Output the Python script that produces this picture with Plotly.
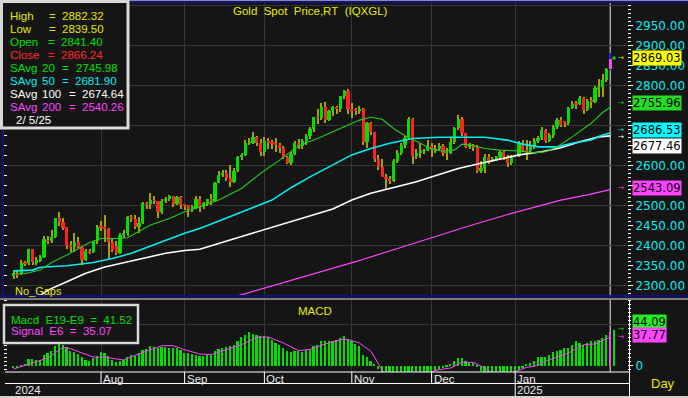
import plotly.graph_objects as go
import pandas as pd

W, H = 688, 398
def fx(p): return p / W
def fy(p): return 1 - p / H

# ---------------- data ----------------
dates = pd.bdate_range("2024-07-01", "2025-02-05")   # weekday bars
idx = list(range(len(dates)))
# month boundaries that the time scale marks (the partial last month is not marked)
month_starts = [i for i in range(1, len(dates))
                if dates[i].month != dates[i - 1].month and len(dates) - i > 5]
month_names = [dates[i].strftime("%b") for i in month_starts]

open_ = [
 2324,2333,2330,2358,2356,2391,2358,2363,2371,2415,2411,2423,2469,2459,2446,2401,2396,2409,2398,2365,2387,2385,2411,
 2448,2446,2443,2410,2400,2383,2428,2431,2472,2466,2447,2457,2508,2504,2514,2512,2484,2512,2518,2524,2504,2521,
 2503,2500,2493,2495,2516,2497,2506,2516,2512,2558,2578,2582,2570,2559,2587,2622,2628,2657,2657,2672,2658,
 2634,2662,2658,2656,2653,2644,2622,2608,2630,2656,2649,2662,2674,2692,2721,2720,2748,2715,2736,2747,2743,2774,2788,
 2743,2741,2736,2743,2659,2706,2685,2618,2598,2573,2566,2563,2612,2631,2651,2670,2716,2625,2633,2637,2639,
 2650,2639,2643,2650,2632,2633,2660,2694,2718,2681,2648,2652,2646,2586,2594,2622,2612,2618,2621,2634,2621,2606,
 2625,2625,2658,2640,2636,2648,2662,2670,2690,2663,2677,2696,2715,2710,2708,2745,2755,2754,2770,2740,2763,2760,2794,
 2798,2815,2841.40]
high = [
 2339,2338,2365,2363,2393,2393,2372,2376,2424,2425,2440,2470,2484,2470,2448,2412,2431,2422,2400,2391,2393,2413,2451,
 2462,2477,2445,2420,2413,2433,2440,2474,2477,2476,2472,2509,2510,2531,2525,2513,2516,2521,2527,2525,2524,2524,
 2505,2503,2502,2524,2524,2509,2518,2530,2560,2586,2590,2589,2601,2595,2625,2632,2664,2670,2685,2674,2666,
 2673,2670,2665,2670,2657,2650,2625,2635,2661,2666,2666,2680,2696,2722,2741,2758,2759,2740,2750,2750,2775,2790,2791,
 2756,2745,2750,2745,2710,2709,2685,2626,2617,2580,2575,2617,2639,2656,2674,2721,2719,2643,2656,2643,2665,
 2657,2653,2657,2655,2645,2669,2696,2726,2721,2683,2657,2654,2651,2611,2629,2630,2622,2625,2638,2638,2627,2628,
 2628,2661,2665,2665,2661,2670,2675,2697,2693,2683,2703,2720,2721,2713,2748,2763,2763,2775,2773,2766,2773,2799,2817,
 2830,2845,2882.32]
low = [
 2318,2320,2328,2350,2352,2353,2352,2360,2369,2404,2408,2420,2450,2440,2393,2385,2385,2394,2353,2362,2379,2381,2405,
 2437,2410,2364,2385,2378,2380,2420,2425,2460,2442,2432,2454,2493,2492,2505,2470,2480,2507,2512,2496,2502,2493,
 2490,2472,2485,2491,2485,2493,2500,2503,2509,2556,2573,2561,2547,2557,2584,2614,2624,2651,2654,2650,2625,
 2624,2643,2641,2635,2633,2616,2604,2603,2626,2642,2643,2652,2668,2685,2704,2715,2708,2712,2725,2730,2735,2767,2730,
 2720,2726,2730,2652,2644,2678,2610,2589,2573,2539,2555,2560,2608,2627,2644,2666,2605,2618,2620,2629,2636,
 2621,2632,2639,2624,2614,2630,2655,2690,2675,2644,2643,2637,2583,2583,2583,2604,2610,2613,2615,2614,2597,2603,
 2621,2621,2636,2615,2630,2643,2656,2665,2656,2660,2670,2693,2697,2696,2703,2741,2742,2751,2730,2737,2745,2758,2773,
 2771,2810,2839.50]
close = [
 2332,2329,2356,2355,2392,2359,2364,2372,2416,2411,2423,2469,2459,2445,2400,2396,2409,2398,2364,2387,2384,2411,2447,
 2446,2443,2409,2390,2383,2428,2431,2472,2466,2447,2456,2507,2504,2514,2512,2484,2512,2518,2524,2504,2521,2503,
 2500,2493,2495,2516,2497,2506,2516,2512,2558,2578,2582,2569,2559,2587,2622,2628,2657,2657,2672,2658,2634,
 2662,2658,2656,2653,2644,2622,2608,2630,2656,2649,2662,2674,2692,2721,2720,2748,2715,2736,2747,2743,2774,2788,2743,
 2736,2736,2743,2659,2706,2685,2618,2598,2573,2566,2563,2612,2631,2651,2670,2716,2625,2633,2637,2639,2650,
 2639,2643,2650,2632,2633,2660,2694,2718,2681,2648,2652,2646,2586,2594,2622,2612,2618,2621,2634,2621,2606,2625,
 2625,2658,2640,2636,2648,2662,2670,2690,2663,2677,2696,2715,2703,2708,2745,2755,2754,2770,2740,2763,2760,2794,2798,
 2815,2842,2866.24]

# simple moving averages (bar index, value)
sma20_i = [0,3,7,10,14,17,20,23,27,30,33,36,41,45,49,54,60,65,70,75,80,86,91,94,97,100,103,107,110,113,116,118,120,124,128,133,137,140,143,147,152,155,157]
sma20_v = [2330,2330,2339,2358,2377,2393,2408,2418,2418,2420,2435,2452,2468,2485,2497,2514,2543,2581,2614,2650,2668,2693,2714,2721,2716,2693,2675,2656,2642,2636,2639,2654,2652,2643,2639,2637,2632,2635,2647,2672,2706,2733,2745.98]
sma50_i = [0,5,7,14,21,26,31,36,41,45,49,55,62,68,73,78,84,89,94,99,105,112,124,130,134,138,143,147,152,155,157]
sma50_v = [2337,2339,2346,2350,2358,2368,2381,2399,2418,2431,2443,2465,2492,2514,2545,2572,2602,2627,2643,2656,2668,2671,2671,2664,2654,2647,2647,2656,2664,2677,2681.90]
sma100_i = [5,9,14,19,24,30,35,40,45,49,60,72,84,89,94,99,106,112,117,123,128,133,139,144,149,154,157]
sma100_v = [2262,2289,2310,2331,2347,2360,2371,2381,2388,2391,2423,2457,2492,2514,2531,2543,2560,2578,2593,2606,2616,2627,2635,2645,2660,2672,2674.64]
sma200_i = [58,70,80,90,100,110,120,130,140,144,151,157]
sma200_v = [2272,2305,2333,2360,2390,2420,2450,2478,2503,2514,2527,2540.26]

macd = [
 -2.9,-2.9,-0.8,1.2,8.6,8.6,7.3,7.3,12.7,15.5,
 17.6,23.7,27.8,25.7,22.4,18.4,16.3,14.3,10.2,7.3,
 6.1,9.4,11.4,16.7,15.5,11.4,7.3,4.5,5.3,7.3,
 10.2,13.5,11.4,15.5,19.6,20.8,23.7,22.4,21.6,22.4,
 22.4,21.6,21.6,21.6,19.6,15.5,15.5,14.3,13.5,11.4,
 11.4,13.5,13.5,17.6,20.8,21.6,22.4,23.7,25.7,29.8,
 34.7,38.0,40.8,38.8,37.1,35.9,35.9,34.7,31.8,27.8,
 25.7,21.6,17.6,16.7,18.4,17.6,16.7,19.6,19.6,23.7,
 25.7,29.8,29.8,30.6,30.6,31.8,33.9,35.9,31.8,29.8,
 26.5,23.7,13.5,10.2,5.3,1.2,-4,-10,-16,-20,
 -18,-15,-12,-10,-9,-12,-11,-10,-9,-8,
 -8,-6,-4,-3,-1,1.2,5.3,9.4,9.4,5.3,
 3.3,3.3,-2,-6,-8,-9,-10,-10,-9,-9,
 -10,-9,-8.5,-5,-3,1.2,3.3,6.1,10.2,10.2,
 10.2,12.7,16.7,17.6,19.6,21.6,21.6,25.7,29.8,27.8,
 25.7,27.8,29.8,29.8,31.8,33.9,38.0,41.52]
signal_i = [0,5,9,13,15,18,21,24,29,31,36,39,42,45,49,52,56,60,64,67,71,75,78,82,86,88,91,94,95,96,
            97,100,104,108,111,115,118,121,124,126,129,132,135,137,141,146,150,153,155,157]
signal_v = [-4,3.3,9.4,22.5,20.8,15.5,10.6,10.3,7.0,11.0,19.6,24.5,24.5,19.6,14.3,13.5,19.6,25.7,35.0,35.0,
            27.8,18.4,20.0,26.6,31.8,32.0,27.8,17.6,10.5,3,-6,-18,-16,-12,-5.6,-2.8,4.1,4.1,-3,-9,
            -11,-7,-2,-0.8,7.3,15.5,25.7,26.6,30.6,35.07]

# real-time values shown in the right-hand boxes
rt_price = 2869.03
rt_sma20, rt_sma50, rt_sma100, rt_sma200 = 2755.96, 2686.53, 2677.46, 2543.09
rt_macd, rt_signal = 44.09, 37.77
price_ticks = list(range(2300, 2951, 50))
hidden_ticks = [2550, 2650, 2700, 2750]   # labels hidden behind the value boxes

# ---------------- colours ----------------
BG = "#151515"
GRID = "#363636"
UP, DN, WICK = "#00e000", "#ff2222", "#a8a000"
YEL, GRN, RED, CYN, WHT, MAG = "#e8e800", "#00e000", "#ff2a2a", "#00eeee", "#ffffff", "#ff44ff"
FONT = "Liberation Sans, Arial, sans-serif"
AXF = "DejaVu Sans, sans-serif"

n = len(close)
last = n - 1
body_base = [min(o, c) for o, c in zip(open_, close)]
body_h = [max(abs(c - o), 0.6) for o, c in zip(open_, close)]
body_col = [UP if c >= o else DN for o, c in zip(open_, close)]
body_col[last] = MAG
wick_col = [WICK] * n
wick_col[last] = "#2020ff"

fig = go.Figure()
fig.add_trace(go.Bar(x=idx, y=[h - l for h, l in zip(high, low)], base=low, width=0.28,
                     marker=dict(color=wick_col, line=dict(width=0)), xaxis="x", yaxis="y"))
fig.add_trace(go.Bar(x=idx, y=body_h, base=body_base, width=0.8,
                     marker=dict(color=body_col, line=dict(width=0)), xaxis="x", yaxis="y"))
for xs, ys, col, w in [(sma200_i, sma200_v, MAG, 1.2), (sma100_i, sma100_v, WHT, 1.6),
                       (sma50_i, sma50_v, CYN, 1.6), (sma20_i, sma20_v, "#22cc22", 1.1)]:
    fig.add_trace(go.Scatter(x=xs, y=ys, mode="lines", line=dict(color=col, width=w),
                             xaxis="x", yaxis="y"))
fig.add_trace(go.Scatter(x=[n], y=[rt_price], mode="markers",
                         marker=dict(symbol="square", size=3, color=UP), xaxis="x", yaxis="y"))
fig.add_trace(go.Scatter(x=[0], y=[price_ticks[0]], mode="markers", marker=dict(opacity=0),
                         xaxis="x", yaxis="y3"))

macd_col = [UP] * n
macd_col[last] = MAG
fig.add_trace(go.Bar(x=idx + [n], y=macd + [rt_macd], width=0.45,
                     marker=dict(color=macd_col + [UP], line=dict(width=0)), xaxis="x2", yaxis="y2"))
fig.add_trace(go.Scatter(x=signal_i, y=signal_v, mode="lines", line=dict(color=MAG, width=1),
                         xaxis="x2", yaxis="y2"))
fig.add_trace(go.Scatter(x=[0], y=[0], mode="markers", marker=dict(opacity=0), xaxis="x2", yaxis="y4"))

xr = [-1.474, 161.42]
xdom = [fx(8), fx(627)]
prange = [2274.25, 3006.75]
mrange = [-7.71, 80.42]
common_x = dict(range=xr, domain=xdom, tickvals=month_starts, showgrid=True, gridcolor=GRID,
                gridwidth=1, showticklabels=False, ticks="", zeroline=False, showline=False, fixedrange=True)
fig.update_layout(
    width=W, height=H, margin=dict(l=0, r=0, t=0, b=0),
    paper_bgcolor=BG, plot_bgcolor=BG, showlegend=False, barmode="overlay", bargap=0,
    xaxis=dict(anchor="y", **common_x),
    xaxis2=dict(anchor="y2", matches="x", **common_x),
    yaxis=dict(domain=[fy(296), fy(3)], range=prange, side="right", anchor="x",
               tickvals=price_ticks,
               ticktext=["" if v in hidden_ticks else f"{v:.2f}" for v in price_ticks],
               tickfont=dict(family=AXF, size=12, color=CYN), ticks="outside", ticklen=5,
               tickcolor=WHT, showgrid=False, zeroline=False, showline=False,
               minor=dict(dtick=10, tick0=2300, ticks="outside", ticklen=3, tickcolor=WHT, showgrid=False)),
    yaxis3=dict(overlaying="y", side="left", anchor="x", range=prange, tick0=2300, dtick=100,
                showgrid=True, gridcolor=GRID, ticks="outside", ticklen=3, tickcolor=WHT,
                showticklabels=False, zeroline=False, showline=False,
                minor=dict(dtick=25, ticks="outside", ticklen=3, tickcolor=WHT, showgrid=False)),
    yaxis2=dict(domain=[fy(372), fy(300)], range=mrange, side="right", anchor="x2",
                tickvals=[0], ticktext=["0"], tickfont=dict(family=AXF, size=12, color=CYN),
                ticks="outside", ticklen=5, tickcolor=WHT, showgrid=False, zeroline=False, showline=False,
                minor=dict(dtick=5, tick0=0, ticks="outside", ticklen=3, tickcolor=WHT, showgrid=False)),
    yaxis4=dict(overlaying="y2", side="left", anchor="x2", range=mrange, tickvals=[50],
                showgrid=True, gridcolor=GRID, ticks="", showticklabels=False, zeroline=False,
                minor=dict(dtick=5, ticks="outside", ticklen=3, tickcolor=WHT, showgrid=False)),
)

shapes = []
def rect(x0, y0, x1, y1, fill=None, line=None, lw=0, layer="above"):
    shapes.append(dict(type="rect", xref="paper", yref="paper", x0=fx(x0), x1=fx(x1),
                       y0=fy(y1), y1=fy(y0), fillcolor=fill, layer=layer,
                       line=dict(color=line if line else "rgba(0,0,0,0)", width=lw)))
def hline(x0, x1, y, col, w=1):
    shapes.append(dict(type="line", xref="paper", yref="paper", x0=fx(x0), x1=fx(x1),
                       y0=fy(y), y1=fy(y), line=dict(color=col, width=w), layer="above"))
def vline(x, y0, y1, col, w=1):
    shapes.append(dict(type="line", xref="paper", yref="paper", x0=fx(x), x1=fx(x),
                       y0=fy(y0), y1=fy(y1), line=dict(color=col, width=w), layer="above"))

# frame
hline(0, 688, 0.5, "#8c8c9c", 1)
hline(0, 688, 2, "#101080", 2)
vline(3, 0, 297, "#101080", 2)
hline(0, 688, 296, "#101080", 2)
hline(0, 688, 299, "#a0a0a0", 1.5)
hline(5, 630, 372, WHT, 1)
hline(5, 630, 383.5, WHT, 1)
vline(629.5, 300, 396, WHT, 1)
rect(0, 396, 688, 398, fill="#d4d0c8")
# cursor line on the last bar
for y0, y1 in [(3, 296), (300, 372)]:
    shapes.append(dict(type="line", xref="x", yref="paper", x0=last, x1=last, y0=fy(y1), y1=fy(y0),
                       line=dict(color="#e8e8e8", width=1), layer="between"))
# month separators on the time scale
for i in month_starts:
    shapes.append(dict(type="line", xref="x", yref="paper", x0=i, x1=i,
                       y0=fy(396 if dates[i].month == 1 else 383.5), y1=fy(372),
                       line=dict(color=WHT, width=1), layer="above"))
# legend boxes
rect(1.5, 1.5, 128, 128, fill=BG, line="#d8d8d8", lw=3)
rect(4, 305, 138, 343, fill=BG, line="#d8d8d8", lw=2.5)
fig.update_layout(shapes=shapes)

ann = []
def txt(x, y, s, col, size=11.5, anchor="left", fam=FONT, **kw):
    d = dict(xref="paper", yref="paper", x=fx(x), y=fy(y), text=s, showarrow=False,
             xanchor=anchor, yanchor="middle", font=dict(family=fam, size=size, color=col), borderpad=0)
    d.update(kw)
    ann.append(d)

txt(310, 11, "Gold\u00a0\u00a0Spot\u00a0\u00a0Price,RT\u00a0\u00a0(IQXGL)", YEL, anchor="center")
txt(14, 291, "No_Gaps", YEL, size=11)
txt(315, 311, "MACD", YEL, anchor="center")

legend_rows = [
    ("High", "", 15.7, YEL, 47.5, 60.5, high[-1]),
    ("Low", "", 29, YEL, 47.5, 60.5, low[-1]),
    ("Open", "", 42, GRN, 46.5, 59.5, open_[-1]),
    ("Close", "", 54.7, RED, 47, 60, close[-1]),
    ("SAvg", "20", 68, GRN, 61, 74.5, sma20_v[-1]),
    ("SAvg", "50", 80.7, CYN, 61, 74, sma50_v[-1]),
    ("SAvg", "100", 94, WHT, 68, 80.5, sma100_v[-1]),
    ("SAvg", "200", 107, MAG, 68, 80.5, sma200_v[-1]),
]
for lab, num, y, col, ex, vx, val in legend_rows:
    txt(8.5, y, lab, col)
    if num:
        txt(41, y, num, col)
    txt(ex, y, "=", col)
    txt(vx, y, f"{val:.2f}", col)
txt(14.5, 120, dates[-1].strftime("%-m/") + "\u00a0" + dates[-1].strftime("%-d/%y"), WHT)

txt(10, 319.7, "Macd\u00a0\u00a0E19-E9\u00a0\u00a0=\u00a0\u00a0" + f"{macd[-1]:.2f}", GRN)
txt(10, 331.3, "Signal\u00a0\u00a0E6\u00a0\u00a0=\u00a0\u00a0" + f"{signal_v[-1]:.2f}", MAG)

# time-scale labels
for i, nm in zip(month_starts, month_names):
    ann.append(dict(xref="x", yref="paper", x=i, y=fy(378.5), text=nm, showarrow=False, xanchor="left",
                    xshift=1, yanchor="middle", font=dict(family=FONT, size=11.5, color="#e8e8e8"), borderpad=0))
    if dates[i].month == 1:
        ann.append(dict(xref="x", yref="paper", x=i, y=fy(390), text=str(dates[i].year), showarrow=False,
                        xanchor="left", xshift=1, yanchor="middle",
                        font=dict(family=FONT, size=11.5, color="#e8e8e8"), borderpad=0))
txt(14, 390, str(dates[0].year), "#e8e8e8")
txt(663, 383, "Day", YEL, size=13, anchor="center")

# right-hand value boxes with arrows
def box(yref, val, bg, shift=0):
    ann.append(dict(xref="paper", yref=yref, x=fx(632), y=val, yshift=shift, text=f"{val:.2f}",
                    showarrow=False, xanchor="left", yanchor="middle", bgcolor=bg, borderpad=0,
                    font=dict(family=AXF, size=11.5, color="#000000")))
def arrow(yref, val, col, shift=0):
    ann.append(dict(xref="paper", yref=yref, x=fx(621), y=val, yshift=shift, text="\u2192",
                    showarrow=False, xanchor="center", yanchor="middle",
                    font=dict(family=AXF, size=7, color=col)))
for yref, val, bg, sh in [("y", rt_price, "#ffff00", 0), ("y", rt_sma20, "#22dd22", 0),
                          ("y", rt_sma50, "#00ffff", 1), ("y", rt_sma100, "#ffffff", -11),
                          ("y", rt_sma200, "#ff44ff", 0), ("y2", rt_macd, "#22ee22", 8),
                          ("y2", rt_signal, "#ff44ff", 0)]:
    box(yref, val, bg, sh)
for yref, val, col, sh in [("y", rt_price, YEL, 0), ("y", rt_sma20, GRN, 0), ("y", rt_sma50, CYN, 1),
                           ("y", rt_sma100, WHT, -2), ("y", rt_sma200, MAG, 0),
                           ("y2", rt_macd, GRN, 1), ("y2", rt_signal, MAG, -2)]:
    arrow(yref, val, col, sh)

fig.update_layout(annotations=ann)
fig.write_html("out.html")
